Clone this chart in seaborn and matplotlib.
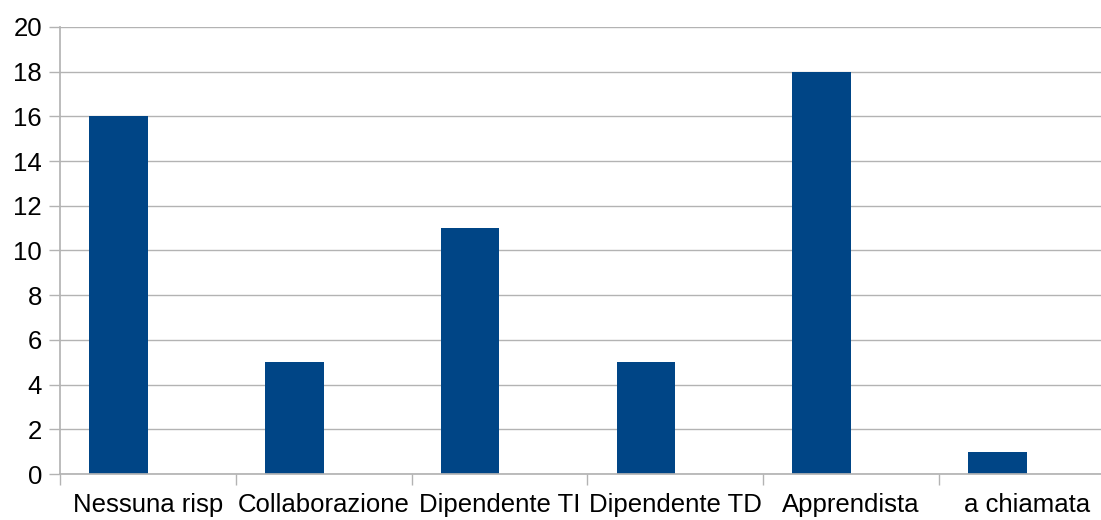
import matplotlib
matplotlib.use("Agg")
import matplotlib.pyplot as plt
import seaborn as sns
import pandas as pd
import numpy as np

categories = ["Nessuna risp", "Collaborazione", "Dipendente TI", "Dipendente TD", "Apprendista", "a chiamata"]
values = [16, 5, 11, 5, 18, 1]
y_ticks = [0, 2, 4, 6, 8, 10, 12, 14, 16, 18, 20]

sns.set_theme(style="white")
plt.rcParams['font.family'] = ['Liberation Sans', 'DejaVu Sans']

df = pd.DataFrame({"categoria": categories, "valore": values, "serie": "s1"})

fig = plt.figure(figsize=(11.01, 5.20), dpi=100)
ax = fig.add_axes([60 / 1101, 46 / 520, 1054.8 / 1101, 447 / 520])

# second (empty) series so the bar sits on the left half of each category
sns.barplot(data=df, x="categoria", y="valore", hue="serie", hue_order=["s1", "s2"],
            palette={"s1": "#004586", "s2": "#ff420e"}, width=0.667, dodge=True,
            saturation=1, legend=False, ax=ax, errorbar=None, linewidth=0)

ax.set_xlim(-0.5, len(categories) - 0.5)
ax.set_ylim(0, 20)
ax.set_yticks(y_ticks)
ax.set_xlabel("")
ax.set_ylabel("")

grid_col = "#b3b3b3"
ax.yaxis.grid(True, color=grid_col, linewidth=1)
ax.set_axisbelow(True)
for s in ["top", "right"]:
    ax.spines[s].set_visible(False)
ax.spines["left"].set_color(grid_col)
ax.spines["bottom"].set_color(grid_col)

ax.tick_params(axis="y", length=8, width=1, color=grid_col, pad=5, labelsize=18.5, labelcolor="black", left=True)
ax.set_xticks(np.arange(len(categories)))
ax.set_xticklabels(categories)
ax.tick_params(axis="x", which="major", length=0, pad=14, labelsize=18.5, labelcolor="black")
ax.set_xticks(np.arange(len(categories) + 1) - 0.5, minor=True)
ax.tick_params(axis="x", which="minor", length=8, width=1, color=grid_col, bottom=True)

fig.savefig("out.png", dpi=100)
